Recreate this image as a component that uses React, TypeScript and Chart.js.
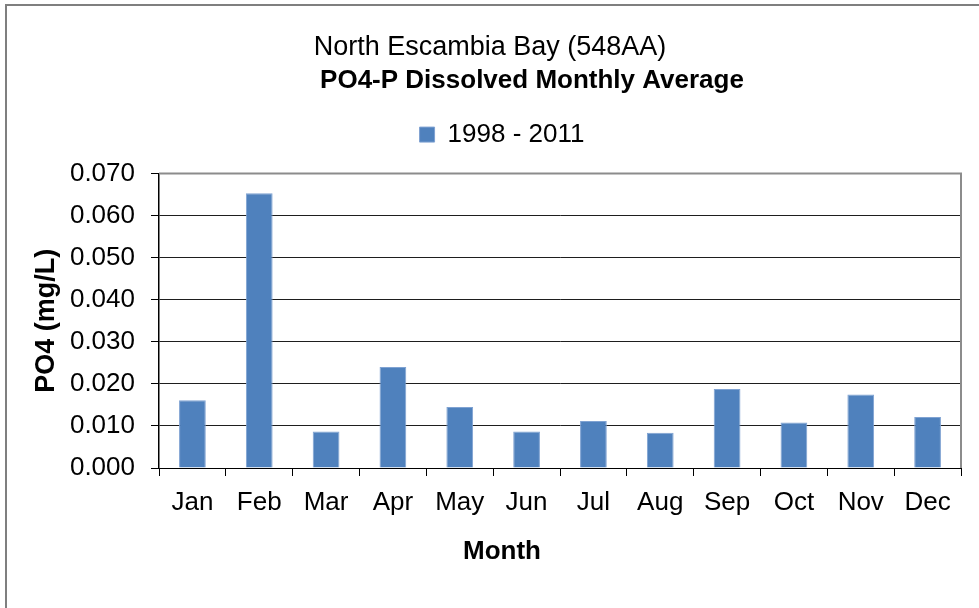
import React, { useEffect, useRef } from "react";
import { Chart, registerables } from "chart.js";

Chart.register(...registerables);

const TITLE = "North Escambia Bay (548AA)";
const SUBTITLE = "PO4-P Dissolved Monthly Average";
const SERIES_LABEL = "1998 - 2011";
const MONTHS = ["Jan", "Feb", "Mar", "Apr", "May", "Jun", "Jul", "Aug", "Sep", "Oct", "Nov", "Dec"];
const PO4_VALUES = [0.0161, 0.0653, 0.0087, 0.024, 0.0145, 0.0087, 0.0112, 0.0084, 0.0188, 0.0108, 0.0175, 0.0121];
const Y_MIN = 0;
const Y_MAX = 0.07;
const Y_STEP = 0.01;
const X_TITLE = "Month";
const Y_TITLE = "PO4 (mg/L)";

const FONT = "'Liberation Sans', Arial, sans-serif";

// horizontal offsets of text blocks relative to Chart.js' centred placement
const SUBTITLE_DX = 42;
const LEGEND_DX = 12;
const LEGEND_EXTRA_BOTTOM = 16;
const X_TITLE_CENTER = 502;
const X_TITLE_Y = 552;

const layoutTweaks = {
  id: "layoutTweaks",
  afterInit(chart: any) {
    for (const box of chart.boxes) {
      if (box === chart.legend) {
        const fit = box.fit.bind(box);
        box.fit = function () {
          fit();
          this.height += LEGEND_EXTRA_BOTTOM;
        };
        const draw = box.draw.bind(box);
        box.draw = function () {
          const ctx = chart.ctx;
          ctx.save();
          ctx.translate(LEGEND_DX, 0);
          draw();
          ctx.restore();
        };
      } else if (box !== chart.titleBlock && box.options && box.options.text === SUBTITLE) {
        const draw = box.draw.bind(box);
        box.draw = function () {
          const ctx = chart.ctx;
          ctx.save();
          ctx.translate(SUBTITLE_DX, 0);
          draw();
          ctx.restore();
        };
      }
    }
  },
  afterDraw(chart: any) {
    const { ctx, chartArea } = chart;
    ctx.save();
    ctx.strokeStyle = "#8c8c8c";
    ctx.lineWidth = 2;
    ctx.beginPath();
    ctx.moveTo(chartArea.left, chartArea.top);
    ctx.lineTo(chartArea.right, chartArea.top);
    ctx.lineTo(chartArea.right, chartArea.bottom);
    ctx.stroke();
    ctx.fillStyle = "#000";
    ctx.font = `bold 26px ${FONT}`;
    ctx.textAlign = "center";
    ctx.textBaseline = "middle";
    ctx.fillText(X_TITLE, X_TITLE_CENTER, X_TITLE_Y);
    ctx.restore();
  },
};

export default function App() {
  const ref = useRef<HTMLCanvasElement | null>(null);

  useEffect(() => {
    document.body.style.margin = "0";
    const canvas = ref.current;
    if (!canvas) return;
    const chart = new Chart(canvas, {
      type: "bar",
      data: {
        labels: MONTHS,
        datasets: [
          {
            label: SERIES_LABEL,
            data: PO4_VALUES,
            backgroundColor: "#4f81bd",
            borderColor: "#7fa2d2",
            borderWidth: 1,
            categoryPercentage: 1,
            barPercentage: 0.4,
          },
        ],
      },
      options: {
        animation: false,
        responsive: false,
        devicePixelRatio: 1,
        layout: { padding: { left: 19, right: 18, top: 0, bottom: 0 } },
        plugins: {
          title: {
            display: true,
            text: TITLE,
            color: "#000",
            font: { family: FONT, size: 27, weight: "normal" },
            padding: { top: 31, bottom: 0 },
          },
          subtitle: {
            display: true,
            text: SUBTITLE,
            color: "#000",
            font: { family: FONT, size: 26, weight: "bold" },
            padding: { top: 2, bottom: 15 },
          },
          legend: {
            display: true,
            position: "top",
            labels: {
              color: "#000",
              font: { family: FONT, size: 26 },
              boxWidth: 15,
              boxHeight: 15,
              padding: 10,
            },
          },
          tooltip: { enabled: false },
        },
        scales: {
          x: {
            afterFit: (s: any) => {
              s.height = 140;
            },
            grid: {
              offset: true,
              drawOnChartArea: false,
              drawTicks: true,
              tickLength: 8,
              tickColor: "#000",
            },
            border: { display: true, color: "#000", width: 1 },
            ticks: {
              color: "#000",
              font: { family: FONT, size: 26 },
              padding: 11,
              maxRotation: 0,
              autoSkip: false,
            },
            title: { display: false, text: X_TITLE },
          },
          y: {
            min: Y_MIN,
            max: Y_MAX,
            afterFit: (s: any) => {
              s.width = 140;
            },
            grid: {
              color: (c: any) => (c.tick && c.tick.value >= Y_MAX - 1e-9 ? "rgba(0,0,0,0)" : "#1e1e1e"),
              tickColor: "#000",
              drawTicks: true,
              tickLength: 8,
              lineWidth: 1,
            },
            border: { display: true, color: "#000", width: 1.5 },
            ticks: {
              stepSize: Y_STEP,
              color: "#000",
              font: { family: FONT, size: 26 },
              padding: 16,
              callback: (v: any) => Number(v).toFixed(3),
            },
            title: {
              display: true,
              text: Y_TITLE,
              color: "#000",
              font: { family: FONT, size: 27, weight: "bold" },
              padding: { top: 11, bottom: 0 },
            },
          },
        },
      },
      plugins: [layoutTweaks],
    });
    return () => chart.destroy();
  }, []);

  return (
    <div style={{ position: "absolute", left: 0, top: 0, width: 979, height: 608, overflow: "hidden", background: "#fff" }}>
      <div
        style={{
          position: "absolute",
          left: 5,
          top: 4,
          width: 1100,
          height: 800,
          border: "2px solid #7f7f7f",
          boxSizing: "border-box",
        }}
      />
      <canvas ref={ref} width={979} height={608} style={{ position: "absolute", left: 0, top: 0 }} />
    </div>
  );
}
